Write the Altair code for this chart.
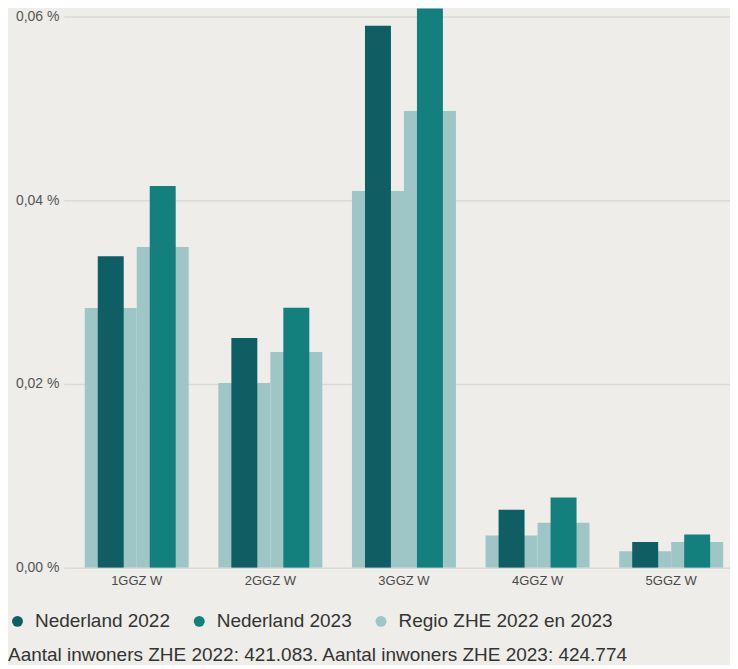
import altair as alt
import pandas as pd

categories = ["1GGZ W", "2GGZ W", "3GGZ W", "4GGZ W", "5GGZ W"]
nl_2022 = [0.0339, 0.0250, 0.0590, 0.0063, 0.0028]
nl_2023 = [0.04155, 0.0283, 0.0630, 0.00765, 0.0036]
regio_2022 = [0.02826, 0.0201, 0.0410, 0.0035, 0.0018]
regio_2023 = [0.0349, 0.02348, 0.0497, 0.0049, 0.0028]
years = ["2022", "2023"]
series_names = ["Nederland 2022", "Nederland 2023", "Regio ZHE 2022 en 2023"]
series_colors = ["#0e5e63", "#13807d", "#9fc6c7"]
y_ticks = [0, 0.02, 0.04, 0.06]
footnote = "Aantal inwoners ZHE 2022: 421.083. Aantal inwoners ZHE 2023: 424.774"

rows = []
for i, c in enumerate(categories):
    rows.append(dict(cat=c, jaar=years[0], serie=series_names[2], laag="regio", value=regio_2022[i]))
    rows.append(dict(cat=c, jaar=years[1], serie=series_names[2], laag="regio", value=regio_2023[i]))
    rows.append(dict(cat=c, jaar=years[0], serie=series_names[0], laag="nl", value=nl_2022[i]))
    rows.append(dict(cat=c, jaar=years[1], serie=series_names[1], laag="nl", value=nl_2023[i]))
df = pd.DataFrame(rows)

FONT = "Liberation Sans"

x_enc = alt.X(
    "cat:N", sort=categories, title=None,
    scale=alt.Scale(paddingInner=0.222, paddingOuter=0.111),
    axis=alt.Axis(labelAngle=0, domain=False, ticks=False, labelPadding=7,
                  labelFontSize=13, labelColor="#4a4a4a", labelFont=FONT),
)
xo_enc = alt.XOffset("jaar:N", sort=years, scale=alt.Scale(paddingInner=0, paddingOuter=0))
y_enc = alt.Y(
    "value:Q", title=None,
    scale=alt.Scale(domain=[0, 0.06087], nice=False, zero=True),
    axis=alt.Axis(values=y_ticks,
                  labelExpr="replace(format(datum.value, '.2f'), '.', ',') + ' %'",
                  grid=True, gridColor="#d9d9d5", gridWidth=1.5,
                  domain=False, tickSize=6, tickColor="#d9d9d5", tickWidth=1.5,
                  labelPadding=5, labelFontSize=14, labelColor="#555555", labelFont=FONT,
                  minExtent=61, maxExtent=61),
)
color_enc = alt.Color(
    "serie:N",
    scale=alt.Scale(domain=series_names, range=series_colors),
    legend=alt.Legend(orient="none", legendX=-62, legendY=604, direction="horizontal",
                      title=None, symbolType="circle", symbolSize=120, symbolStrokeWidth=0,
                      labelFontSize=19, labelColor="#333333", labelFont=FONT, labelLimit=400,
                      columnPadding=19, labelOffset=8, padding=0),
)

base = alt.Chart(df)
regio = base.transform_filter(alt.datum.laag == "regio").mark_bar(clip=True).encode(
    x=x_enc, xOffset=xo_enc, y=y_enc, color=color_enc
)
nl = base.transform_filter(alt.datum.laag == "nl").mark_bar(
    clip=True, width=26
).encode(x=x_enc, xOffset=xo_enc, y=y_enc, color=color_enc)

chart = alt.layer(regio, nl).properties(
    width=669, height=560,
    title=alt.TitleParams(footnote, orient="bottom", anchor="start", frame="bounds",
                          fontSize=19, fontWeight="normal", color="#333333", font=FONT,
                          offset=14),
).configure(
    background="#eeede9",
    padding={"left": 0, "top": 0, "right": -8, "bottom": 0},
).configure_view(stroke=None)

chart.save("out.html", embed_options={"renderer": "svg", "actions": False})
